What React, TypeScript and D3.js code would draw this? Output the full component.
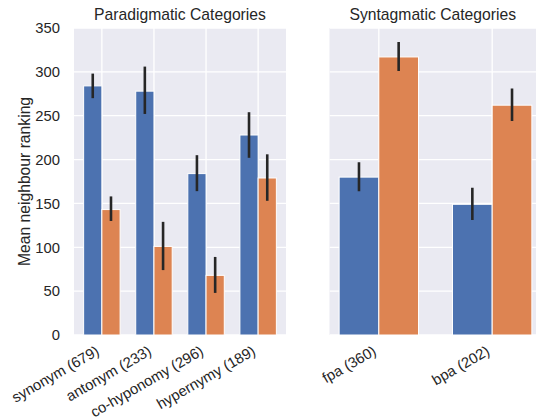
import React from "react";
import * as d3 from "d3";

// Paradigmatic panel
const paraCategories = ["synonym (679)", "antonym (233)", "co-hyponomy (296)", "hypernymy (189)"];
const paraBlue = [284, 278, 184, 228];
const paraBlueLo = [270, 252, 164, 202];
const paraBlueHi = [298, 306, 205, 254];
const paraOrange = [143, 101, 68, 179];
const paraOrangeLo = [130, 74, 48, 153];
const paraOrangeHi = [158, 129, 89, 206];

// Syntagmatic panel
const syntCategories = ["fpa (360)", "bpa (202)"];
const syntBlue = [180, 149];
const syntBlueLo = [164, 131];
const syntBlueHi = [197, 168];
const syntOrange = [317, 262];
const syntOrangeLo = [301, 244];
const syntOrangeHi = [334, 281];

const yTicks = [0, 50, 100, 150, 200, 250, 300, 350];

const BLUE = "#4c72b0";
const ORANGE = "#dd8452";
const BG = "#eaeaf2";
const TXT = "#262626";
const FONT = "'Liberation Sans', Arial, sans-serif";

const top = 28;
const bottom = 335;
const BW = 0.35;

const y = d3.scaleLinear().domain([0, 350]).range([bottom, top]);

type PanelProps = {
  x0: number;
  x1: number;
  title: string;
  cats: string[];
  blue: number[];
  blueLo: number[];
  blueHi: number[];
  orange: number[];
  orangeLo: number[];
  orangeHi: number[];
  showY: boolean;
};

const Panel = (p: PanelProps) => {
  const n = p.cats.length;
  const margin = (n - 1 + 2 * BW) * 0.05;
  const x = d3
    .scaleLinear()
    .domain([-BW - margin, n - 1 + BW + margin])
    .range([p.x0, p.x1]);
  const clipId = "clip-" + p.title.replace(/\s/g, "");
  return (
    <g>
      <defs>
        <clipPath id={clipId}>
          <rect x={p.x0} y={top} width={p.x1 - p.x0} height={bottom - top} />
        </clipPath>
      </defs>
      <rect x={p.x0} y={top} width={p.x1 - p.x0} height={bottom - top} fill={BG} />
      <g clipPath={`url(#${clipId})`}>
        {yTicks.map((t) => (
          <line key={"h" + t} x1={p.x0} x2={p.x1} y1={y(t)} y2={y(t)} stroke="#fff" strokeWidth={1.3} />
        ))}
        {p.cats.map((c, i) => (
          <line key={"v" + c} x1={x(i)} x2={x(i)} y1={top} y2={bottom} stroke="#fff" strokeWidth={1.3} />
        ))}
        {p.cats.map((c, i) => (
          <g key={"b" + c}>
            <rect
              x={x(i - BW)}
              y={y(p.blue[i])}
              width={x(i) - x(i - BW)}
              height={y(0) - y(p.blue[i])}
              fill={BLUE}
              stroke="#fff"
              strokeWidth={1}
            />
            <rect
              x={x(i)}
              y={y(p.orange[i])}
              width={x(i + BW) - x(i)}
              height={y(0) - y(p.orange[i])}
              fill={ORANGE}
              stroke="#fff"
              strokeWidth={1}
            />
            <line
              x1={x(i - BW / 2)}
              x2={x(i - BW / 2)}
              y1={y(p.blueLo[i])}
              y2={y(p.blueHi[i])}
              stroke={TXT}
              strokeWidth={2.6}
            />
            <line
              x1={x(i + BW / 2)}
              x2={x(i + BW / 2)}
              y1={y(p.orangeLo[i])}
              y2={y(p.orangeHi[i])}
              stroke={TXT}
              strokeWidth={2.6}
            />
          </g>
        ))}
      </g>
      <text x={(p.x0 + Math.min(p.x1, 536)) / 2} y={top - 8} textAnchor="middle" fontSize={15.7} fill={TXT}>
        {p.title}
      </text>
      {p.showY &&
        yTicks.map((t) => (
          <text key={"yt" + t} x={60} y={y(t)} dy="0.36em" textAnchor="end" fontSize={14.8} fill={TXT}>
            {t}
          </text>
        ))}
      {p.cats.map((c, i) => (
        <text
          key={"xt" + c}
          transform={`translate(${x(i) - 1.5},${bottom + 19}) rotate(-30)`}
          textAnchor="end"
          fontSize={14.8}
          fill={TXT}
        >
          {c}
        </text>
      ))}
    </g>
  );
};

export default function App() {
  return (
    <svg width={536} height={419} style={{ position: "absolute", left: 0, top: 0, fontFamily: FONT }}>
      <rect width={536} height={419} fill="#fff" />
      <Panel
        x0={74}
        x1={286}
        title="Paradigmatic Categories"
        cats={paraCategories}
        blue={paraBlue}
        blueLo={paraBlueLo}
        blueHi={paraBlueHi}
        orange={paraOrange}
        orangeLo={paraOrangeLo}
        orangeHi={paraOrangeHi}
        showY={true}
      />
      <Panel
        x0={329.5}
        x1={541.5}
        title="Syntagmatic Categories"
        cats={syntCategories}
        blue={syntBlue}
        blueLo={syntBlueLo}
        blueHi={syntBlueHi}
        orange={syntOrange}
        orangeLo={syntOrangeLo}
        orangeHi={syntOrangeHi}
        showY={false}
      />
      <text
        transform={`translate(29.5,${(top + bottom) / 2}) rotate(-90)`}
        textAnchor="middle"
        fontSize={15.7}
        fill={TXT}
      >
        Mean neighbour ranking
      </text>
    </svg>
  );
}
